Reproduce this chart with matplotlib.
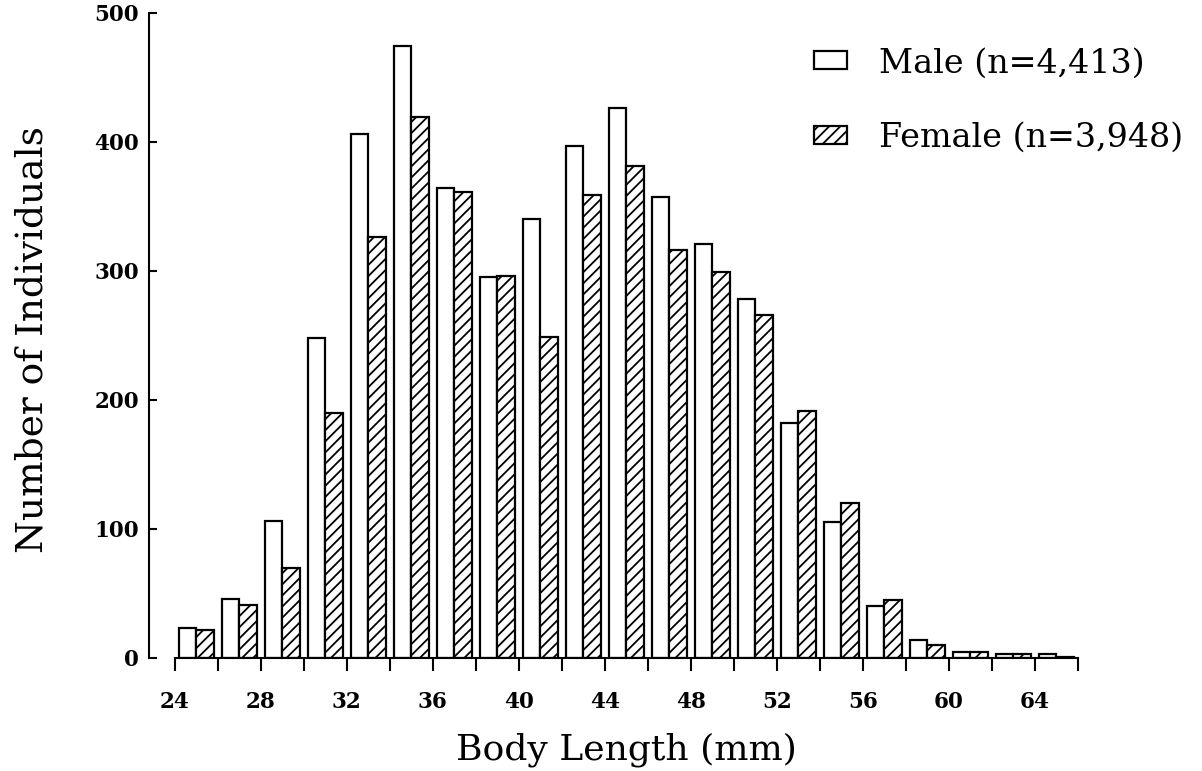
import numpy as np
import matplotlib
matplotlib.use("Agg")
import matplotlib.pyplot as plt

# body length classes (lower edge of each 2 mm class)
bins = [24, 26, 28, 30, 32, 34, 36, 38, 40, 42, 44, 46, 48, 50, 52, 54, 56, 58, 60, 62, 64]
male = [23, 46, 106, 248, 406, 474, 364, 295, 340, 397, 426, 357, 321, 278, 182, 105, 40, 14, 5, 3, 3]
female = [22, 41, 70, 190, 326, 419, 361, 296, 249, 359, 381, 316, 299, 266, 191, 120, 45, 10, 5, 3, 1]
male_label = "Male (n=4,413)"
female_label = "Female (n=3,948)"

plt.rcParams['font.family'] = ['DejaVu Serif']
plt.rcParams['hatch.linewidth'] = 1.3

fig = plt.figure(figsize=(12.02, 7.71), dpi=100)
ax = fig.add_axes([0.124, 0.1466, 0.7745, 0.8369])

x = np.array(bins, dtype=float)
ax.bar(x + 0.2, male, width=0.8, align='edge', color='white',
       edgecolor='black', linewidth=1.6, label=male_label)
ax.bar(x + 1.0, female, width=0.8, align='edge', color='white',
       edgecolor='black', linewidth=1.6, hatch='///', label=female_label)

ax.set_xlim(22.8, 66.1)
ax.set_ylim(0, 500)

for s in ['top', 'right']:
    ax.spines[s].set_visible(False)
ax.spines['left'].set_linewidth(1.5)
ax.spines['bottom'].set_linewidth(1.5)
ax.spines['left'].set_bounds(0, 500)
ax.spines['bottom'].set_bounds(24, 66)

xt = list(range(24, 67, 2))
ax.set_xticks(xt)
ax.set_xticklabels([str(t) if t % 4 == 0 else '' for t in xt],
                   fontsize=15.5, fontweight='bold')
ax.tick_params(axis='x', direction='out', length=9.5, width=1.5, pad=14)

ax.set_yticks([0, 100, 200, 300, 400, 500])
ax.set_yticklabels(['0', '100', '200', '300', '400', '500'],
                   fontsize=15.5, fontweight='bold')
ax.tick_params(axis='y', direction='in', length=6, width=1.5, pad=7)

ax.set_xlabel("Body Length (mm)", fontsize=26)
ax.xaxis.set_label_coords(0.513, -0.115)
ax.set_ylabel("Number of Individuals", fontsize=27)
ax.yaxis.set_label_coords(-0.106, 0.493)

ax.legend(loc='upper left', bbox_to_anchor=(0.682, 0.993), frameon=False,
          fontsize=24, handlelength=1.0, handleheight=0.45,
          handletextpad=0.95, labelspacing=1.27)

fig.savefig("out.png", dpi=100)
